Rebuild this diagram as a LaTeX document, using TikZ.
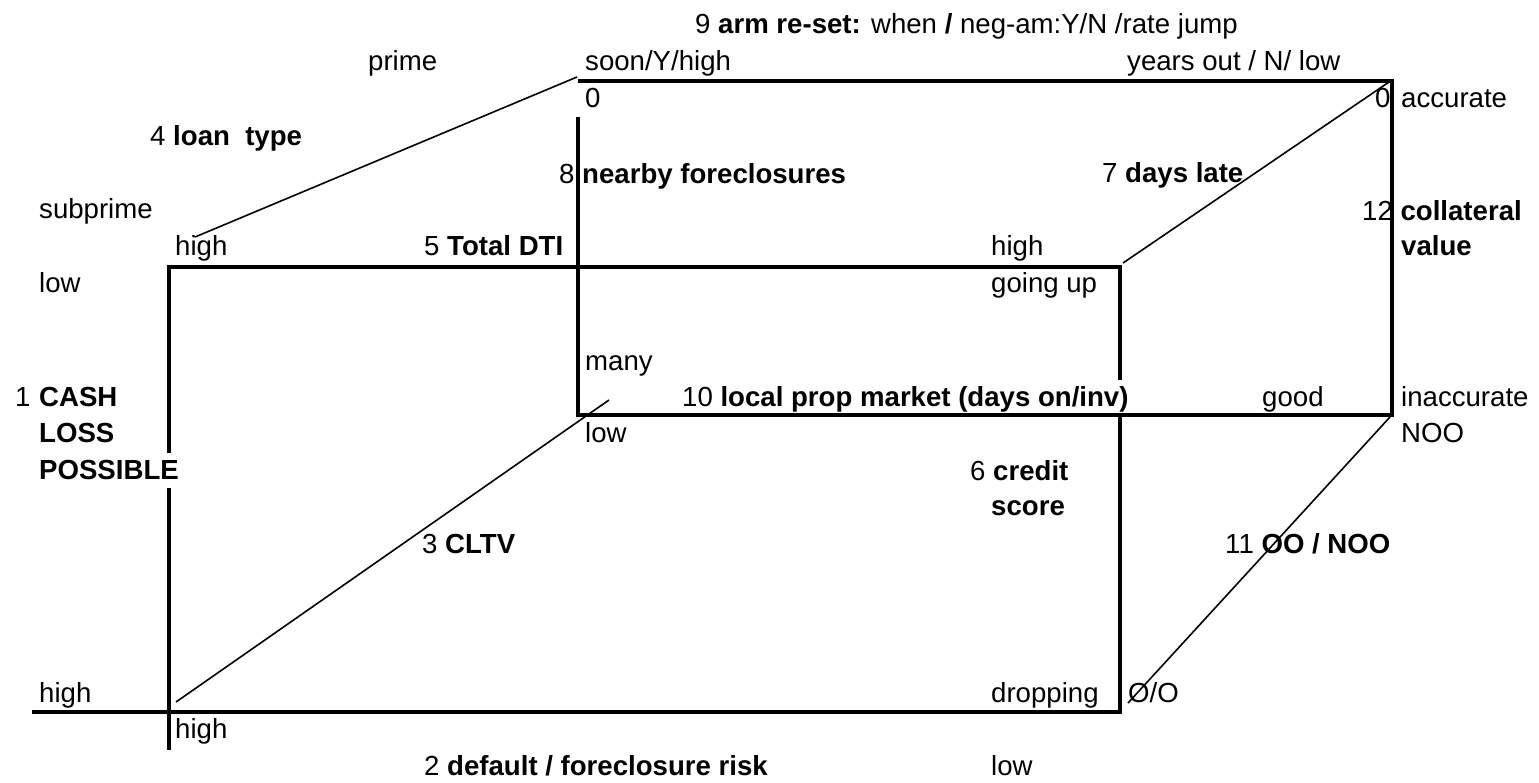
\documentclass[tikz,border=0pt]{standalone}
\usepackage{fontspec}
\setmainfont{Liberation Sans}

\begin{document}
\begin{tikzpicture}[x=1pt,y=-1pt,
	edge/.style={line width=3.4pt},
	diag/.style={line width=1.6pt},
	every node/.style={anchor=base west,inner sep=0pt,font=\fontsize{27.6}{37}\selectfont}]
%
	\useasboundingbox (0,0) rectangle (1539,782);
%
	% front face
	\coordinate (fTL) at (169,267);
	\coordinate (fTR) at (1120,267);
	\coordinate (fBR) at (1120,712);
	\coordinate (fBL) at (169,712);
	\coordinate (fGapA) at (169,453);
	\coordinate (fGapB) at (169,488);
	\coordinate (fLow) at (169,750);
	\coordinate (fLeft) at (32,712);
	\coordinate (fGapC) at (1120,380);
	\coordinate (fGapD) at (1120,415);
	% back face
	\coordinate (bTL) at (578,81);
	\coordinate (bTR) at (1392,81);
	\coordinate (bBR) at (1392,415);
	\coordinate (bBL) at (578,415);
	\coordinate (bGap) at (578,117);
	% diagonal ends
	\coordinate (dLoanA) at (577,77);
	\coordinate (dLoanB) at (195,237);
	\coordinate (dLateA) at (1392,80);
	\coordinate (dLateB) at (1123,263);
	\coordinate (dOoA) at (1390,417);
	\coordinate (dOoB) at (1128,703);
	\coordinate (dCltvA) at (176,702);
	\coordinate (dCltvB) at (609,400);
%
	\draw[edge] (fGapA) -- (fTL) -- (fTR) -- (fGapC);
	\draw[edge] (fGapB) -- (fLow);
	\draw[edge] (fLeft) -- (fBR) -- (fGapD);
	\draw[edge] (bGap) -- (bBL) -- (bBR) -- (bTR) -- (bTL);
	\draw[diag] (dLoanA) -- (dLoanB);
	\draw[diag] (dLateA) -- (dLateB);
	\draw[diag] (dOoA) -- (dOoB);
	\draw[diag] (dCltvA) -- (dCltvB);
%
	% axis titles
	\node (armT) at (695,33) {9 \textbf{arm re-set:} when \textbf{/} neg-am:Y/N /rate jump};
	\node (loanT) at (150,145) {4 \textbf{loan\ \ type}};
	\node (nearT) at (559,183) {8 \textbf{nearby foreclosures}};
	\node (lateT) at (1102,182) {7 \textbf{days late}};
	\node (collT) at (1362,220) {12 \textbf{collateral}};
	\node (collU) at (1401,255) {\textbf{value}};
	\node (dtiT) at (424,255) {5 \textbf{Total DTI}};
	\node (mktT) at (682,406) {10 \textbf{local prop market (days on/inv)}};
	\node (cashN) at (15,406) {1};
	\node (cashT) at (39,406) {\textbf{CASH}};
	\node (cashU) at (39,442) {\textbf{LOSS}};
	\node (cashV) at (39,479) {\textbf{POSSIBLE}};
	\node (credT) at (970,480) {6 \textbf{credit}};
	\node (credU) at (991,515) {\textbf{score}};
	\node (cltvT) at (422,553) {3 \textbf{CLTV}};
	\node (ooT) at (1225,553) {11 \textbf{OO / NOO}};
	\node (riskT) at (424,775) {2 \textbf{default / foreclosure risk}};
%
	% end values
	\node (prime) at (368,70) {prime};
	\node (soon) at (585,70) {soon/Y/high};
	\node (years) at (1127,70) {years out / N/ low};
	\node (zeroA) at (585,107) {0};
	\node (zeroB) at (1375,107) {0};
	\node (accur) at (1401,107) {accurate};
	\node (subpr) at (39,218) {subprime};
	\node (dtiHi) at (175,255) {high};
	\node (mktHi) at (991,255) {high};
	\node (cashLo) at (39,292) {low};
	\node (goUp) at (991,292) {going up};
	\node (many) at (585,370) {many};
	\node (good) at (1262,406) {good};
	\node (inacc) at (1401,406) {inaccurate};
	\node (nearLo) at (585,442) {low};
	\node (noo) at (1401,442) {NOO};
	\node (cashHi) at (39,702) {high};
	\node (drop) at (991,702) {dropping};
	\node (oo) at (1128,702) {O/O};
	\node (riskHi) at (175,738) {high};
	\node (riskLo) at (991,775) {low};
\end{tikzpicture}
\end{document}
